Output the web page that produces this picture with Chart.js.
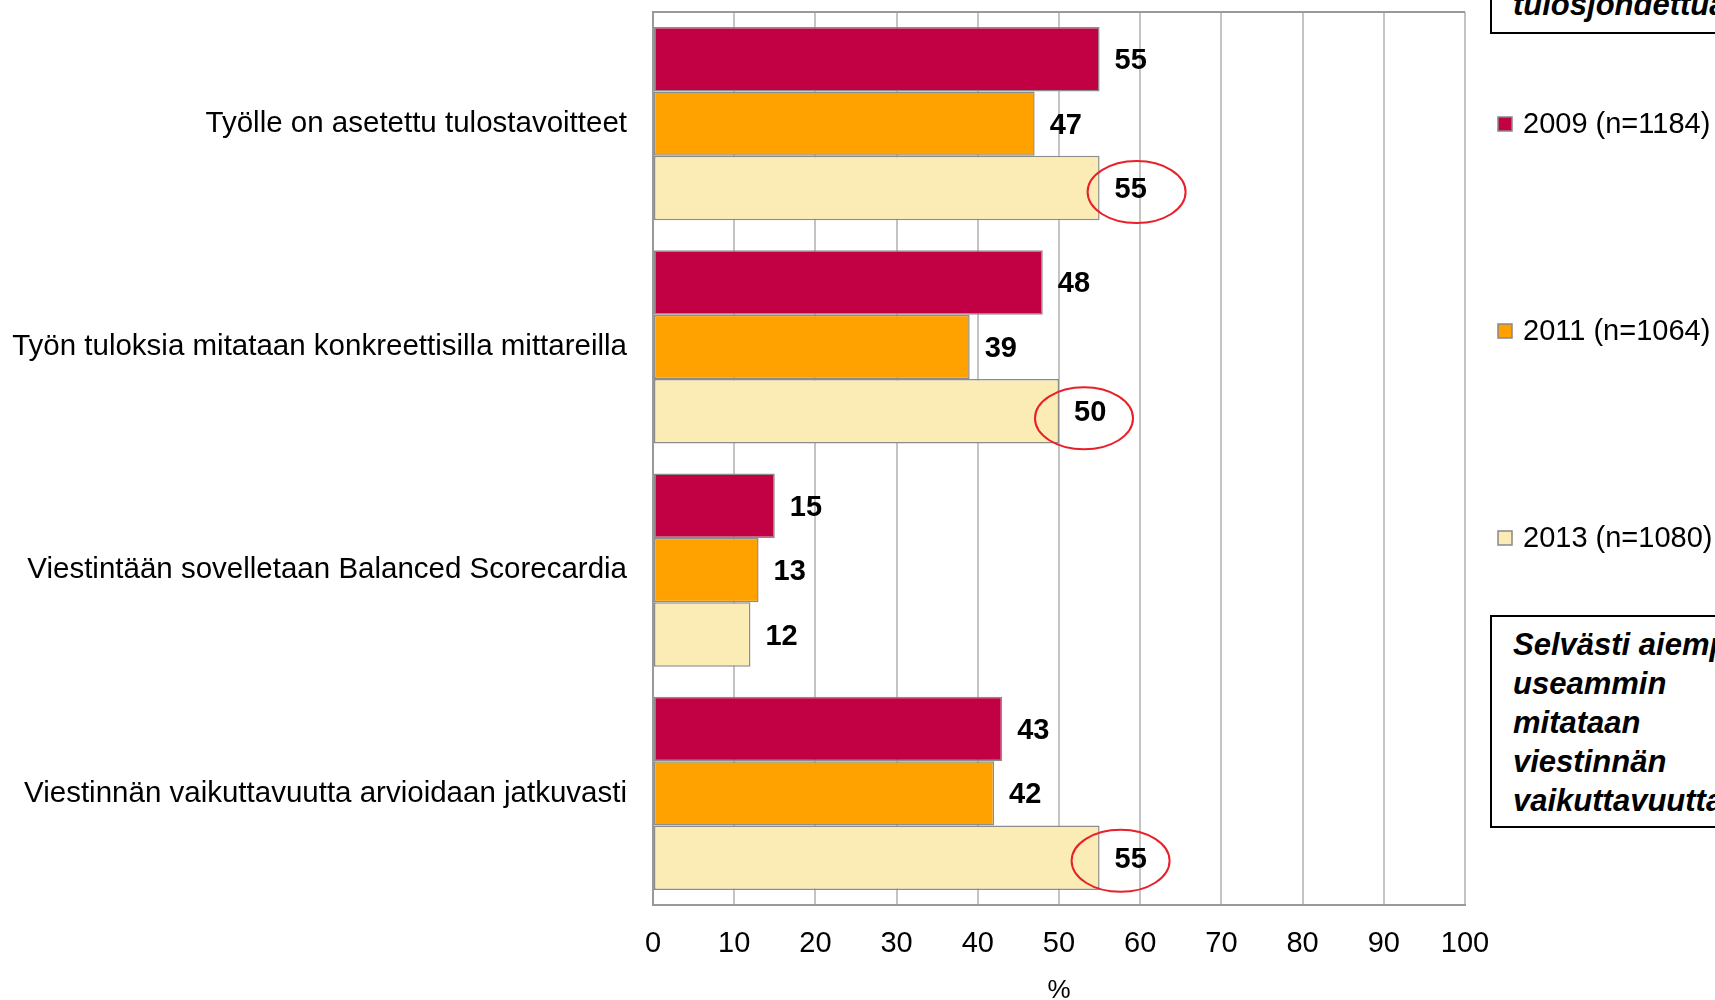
<!DOCTYPE html>
<html>
<head>
<meta charset="utf-8">
<script src="https://cdn.jsdelivr.net/npm/chart.js@4.4.1/dist/chart.umd.min.js"></script>
<style>
  html, body { margin: 0; padding: 0; background: #fff; overflow: hidden; }
  #wrap { position: relative; width: 1715px; height: 1000px; overflow: hidden; }
  canvas { position: absolute; left: 0; top: 0; }
  .note {
    position: absolute;
    left: 1490px;
    width: 300px;
    border: 2px solid #000;
    background: #fff;
    font: italic bold 31px "Liberation Sans", Arial, sans-serif;
    line-height: 39px;
    color: #000;
    padding-left: 21px;
    box-sizing: border-box;
    white-space: nowrap;
    display: flex;
    flex-direction: column;
  }
</style>
</head>
<body>
<div id="wrap">
  <canvas id="chart" width="1715" height="1000"></canvas>
  <div class="note" style="top:-120px;height:154px;justify-content:flex-end;padding-bottom:8px;"><span>Viestintä on aiempaa</span><span>selvemmin</span><span>tulosjohdettua</span></div>
  <div class="note" style="top:615px;height:213px;padding-top:8px;"><span>Selvästi aiempaa</span><span>useammin</span><span>mitataan</span><span>viestinnän</span><span>vaikuttavuutta</span></div>
</div>
<script>
// categories and values
const categories = [
    "Työlle on asetettu tulostavoitteet",
    "Työn tuloksia mitataan konkreettisilla mittareilla",
    "Viestintään sovelletaan Balanced Scorecardia",
    "Viestinnän vaikuttavuutta arvioidaan jatkuvasti"
];
const seriesNames = ["2009 (n=1184)", "2011 (n=1064)", "2013 (n=1080)"];
const values2009 = [55, 48, 15, 43];
const values2011 = [47, 39, 13, 42];
const values2013 = [55, 50, 12, 55];
const xTicks = [0, 10, 20, 30, 40, 50, 60, 70, 80, 90, 100];

const colors = ["#c20044", "#ffa200", "#fbecb6"];
const FONT = '"Liberation Sans", Arial, sans-serif';

// red ellipses round the 2013 values that rose clearly
const circled = [
    { index: 0, dx: 37, dy: 4 },
    { index: 1, dx: 25, dy: 7 },
    { index: 3, dx: 21, dy: 3 }
];
// legend rows on the right
const legendRows = [124, 331, 538];

const extras = {
    id: "extras",
    beforeDatasetsDraw(chart) {
        const { ctx, chartArea } = chart;
        ctx.save();
        ctx.strokeStyle = "#999";
        ctx.lineWidth = 2;
        ctx.beginPath();
        ctx.moveTo(chartArea.left, chartArea.top);
        ctx.lineTo(chartArea.right, chartArea.top);
        ctx.stroke();
        ctx.restore();
    },
    afterDatasetsDraw(chart) {
        const { ctx } = chart;
        ctx.save();
        // value labels
        ctx.font = "bold 29px " + FONT;
        ctx.fillStyle = "#000";
        ctx.textAlign = "left";
        ctx.textBaseline = "middle";
        chart.data.datasets.forEach((ds, i) => {
            chart.getDatasetMeta(i).data.forEach((bar, j) => {
                ctx.fillText(String(ds.data[j]), bar.x + 15, bar.y + 2);
            });
        });
        // ellipses
        ctx.strokeStyle = "#e8202a";
        ctx.lineWidth = 2;
        const meta = chart.getDatasetMeta(2);
        circled.forEach(c => {
            const bar = meta.data[c.index];
            ctx.beginPath();
            ctx.ellipse(bar.x + c.dx, bar.y + c.dy, 49, 31, 0, 0, Math.PI * 2);
            ctx.stroke();
        });
        // legend
        ctx.font = "29px " + FONT;
        chart.data.datasets.forEach((ds, i) => {
            const y = legendRows[i];
            ctx.fillStyle = ds.backgroundColor;
            ctx.fillRect(1498, y - 7, 14, 14);
            ctx.strokeStyle = "#888";
            ctx.lineWidth = 1.5;
            ctx.strokeRect(1498, y - 7, 14, 14);
            ctx.fillStyle = "#000";
            ctx.fillText(ds.label, 1523, y + 1);
        });
        ctx.restore();
    }
};

new Chart(document.getElementById("chart"), {
    type: "bar",
    data: {
        labels: categories,
        datasets: [values2009, values2011, values2013].map((vals, i) => ({
            label: seriesNames[i],
            data: vals,
            backgroundColor: colors[i],
            borderColor: "#8c8c8c",
            borderWidth: 1.5,
            borderSkipped: false,
            categoryPercentage: 0.866,
            barPercentage: 1.0
        }))
    },
    options: {
        indexAxis: "y",
        responsive: false,
        animation: false,
        layout: { padding: { top: 12, right: 250, left: 0, bottom: 0 } },
        plugins: { legend: { display: false }, tooltip: { enabled: false } },
        scales: {
            x: {
                min: 0,
                max: 100,
                afterBuildTicks(scale) { scale.ticks = xTicks.map(v => ({ value: v })); },
                afterFit(scale) { scale.height = 95; },
                ticks: { color: "#000", font: { family: FONT, size: 29 }, padding: 22 },
                grid: { color: "#c4c4c4", lineWidth: 2, drawTicks: false },
                border: { color: "#999", width: 2 },
                title: {
                    display: true,
                    text: "%",
                    color: "#000",
                    font: { family: FONT, size: 26, lineHeight: 0.7 },
                    padding: { top: 0, bottom: 0 }
                }
            },
            y: {
                afterFit(scale) {
                    scale.width = 653;
                    scale.paddingTop = 0;
                    scale.paddingBottom = 0;
                },
                ticks: { color: "#000", font: { family: FONT, size: 29.5 }, padding: 26 },
                grid: { display: false, drawTicks: false },
                border: { color: "#999", width: 2 }
            }
        }
    },
    plugins: [extras]
});
</script>
</body>
</html>
